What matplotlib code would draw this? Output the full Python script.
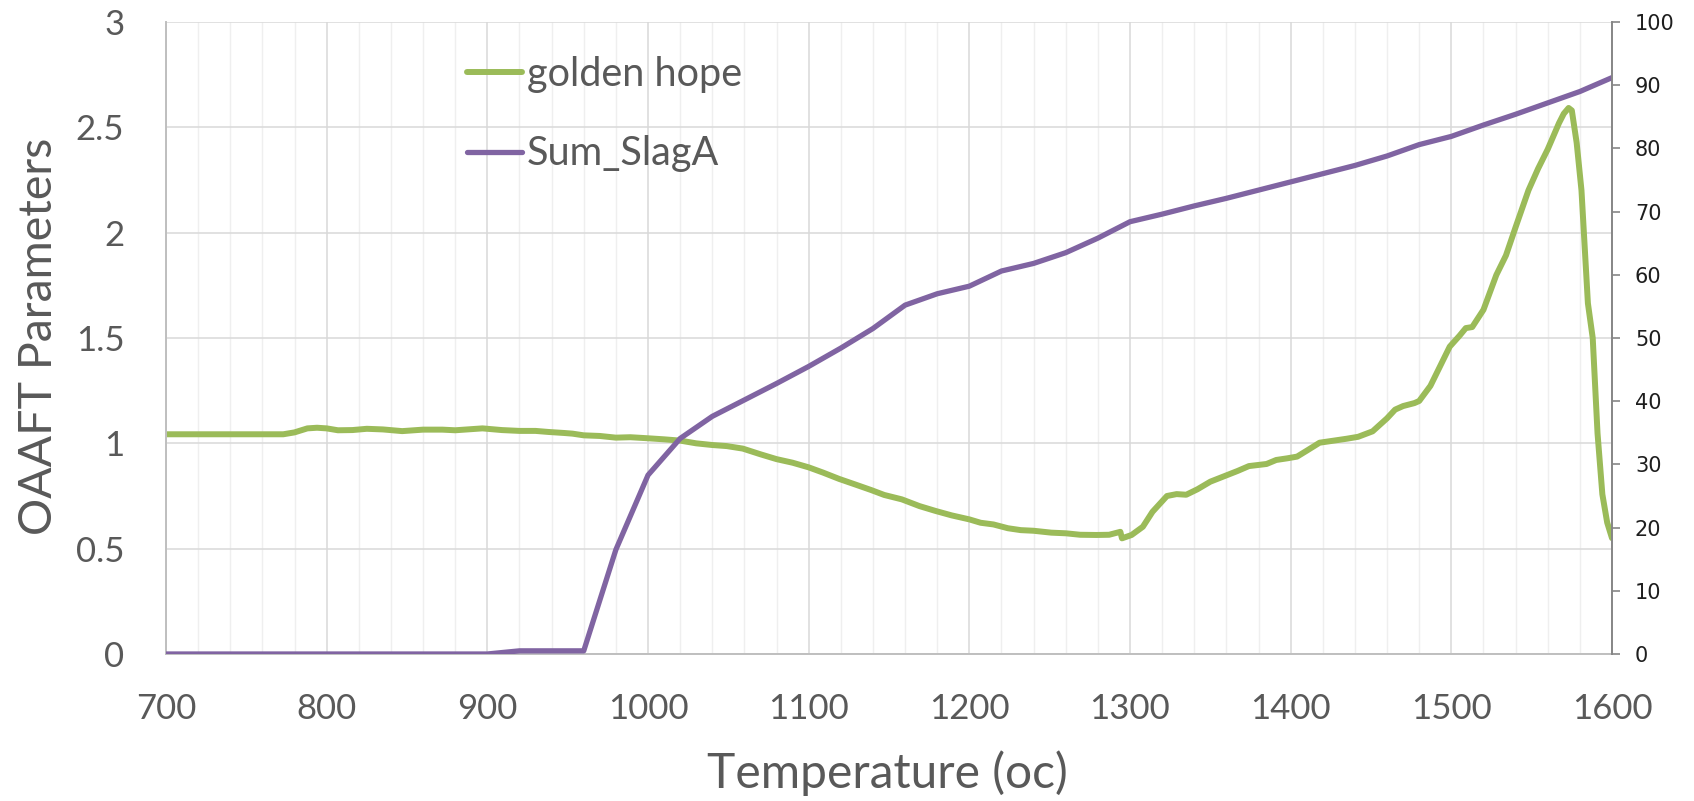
import matplotlib
matplotlib.use("Agg")
import matplotlib.pyplot as plt
from matplotlib.ticker import MultipleLocator


OUTPUT_PNG = "out.png"

GREEN = "#9bbb59"
PURPLE = "#8064a2"
TEXT_GREY = "#595959"

# golden hope (left axis)
GOLDEN_T = [
    700, 720, 740, 760, 773, 780, 788, 794, 800, 807, 816, 825, 835, 847,
    860, 872, 880, 897, 909, 920, 930, 938, 948, 953, 960, 970, 980, 989,
    1000, 1010, 1020, 1030, 1040, 1049, 1059, 1070, 1080, 1090, 1100, 1109,
    1119, 1130, 1139, 1147, 1158, 1169, 1179, 1189, 1200, 1207, 1215, 1224,
    1232, 1240, 1251, 1260, 1269, 1279, 1287, 1294, 1295, 1301, 1308, 1314,
    1323, 1329, 1335, 1342, 1350, 1359, 1367, 1374, 1385, 1391, 1398, 1404,
    1410, 1418, 1427, 1435, 1442, 1451, 1460, 1465, 1470, 1477, 1480, 1487,
    1493, 1499, 1505, 1509, 1513, 1520, 1528, 1534, 1540, 1548, 1554, 1560,
    1567, 1570, 1573, 1575, 1578, 1581, 1585, 1588, 1591, 1594, 1597, 1600,
]
GOLDEN_VAL = [
    1.043, 1.043, 1.043, 1.043, 1.043, 1.052, 1.071, 1.074, 1.071, 1.062,
    1.063, 1.069, 1.066, 1.058, 1.065, 1.065, 1.062, 1.071, 1.063, 1.059,
    1.059, 1.054, 1.049, 1.046, 1.038, 1.035, 1.027, 1.029, 1.024, 1.019,
    1.013, 1.000, 0.992, 0.987, 0.975, 0.948, 0.925, 0.908, 0.886, 0.861,
    0.831, 0.802, 0.778, 0.755, 0.734, 0.702, 0.679, 0.658, 0.639, 0.623,
    0.615, 0.597, 0.588, 0.585, 0.576, 0.573, 0.566, 0.565, 0.566, 0.580,
    0.549, 0.565, 0.604, 0.675, 0.750, 0.759, 0.756, 0.782, 0.818, 0.845,
    0.869, 0.892, 0.902, 0.921, 0.929, 0.937, 0.965, 1.003, 1.013, 1.022,
    1.031, 1.057, 1.119, 1.160, 1.177, 1.191, 1.201, 1.273, 1.366, 1.459,
    1.510, 1.547, 1.552, 1.634, 1.799, 1.892, 2.026, 2.201, 2.304, 2.396,
    2.520, 2.565, 2.592, 2.580, 2.427, 2.201, 1.665, 1.500, 1.047, 0.758,
    0.624, 0.550,
]

# Sum_SlagA (right axis)
SLAG_T = [
    700, 900, 920, 940, 960, 980, 1000, 1020, 1040, 1060, 1080, 1100, 1120,
    1140, 1160, 1180, 1200, 1220, 1240, 1260, 1280, 1300, 1320, 1340, 1360,
    1380, 1400, 1420, 1440, 1460, 1480, 1500, 1520, 1540, 1560, 1580, 1600,
]
SLAG_VAL = [
    0.0, 0.0, 0.5, 0.5, 0.5, 16.5, 28.3, 34.1, 37.6, 40.2, 42.8, 45.5, 48.4,
    51.5, 55.2, 57.0, 58.2, 60.6, 61.8, 63.5, 65.8, 68.4, 69.6, 70.9, 72.1,
    73.4, 74.7, 76.0, 77.3, 78.8, 80.6, 81.9, 83.7, 85.4, 87.2, 89.0, 91.2,
]


def main():
    plt.rcParams["font.family"] = ["Lato", "DejaVu Sans"]

    fig = plt.figure(figsize=(16.94, 8.01), dpi=100)
    ax = fig.add_axes([166 / 1694, 147 / 801, 1446 / 1694, 632 / 801])
    ax2 = ax.twinx()

    # grid
    ax.set_xlim(700, 1600)
    ax.set_ylim(0, 3)
    ax.xaxis.set_major_locator(MultipleLocator(100))
    ax.xaxis.set_minor_locator(MultipleLocator(20))
    ax.yaxis.set_major_locator(MultipleLocator(0.5))
    ax.grid(which="minor", axis="x", color="#efefef", linewidth=1.0)
    ax.grid(which="major", axis="both", color="#d9d9d9", linewidth=1.1)
    ax.set_axisbelow(True)

    line_g, = ax.plot(GOLDEN_T, GOLDEN_VAL, color=GREEN, linewidth=4.3,
                      solid_capstyle="round", solid_joinstyle="round",
                      label="golden hope")
    line_p, = ax2.plot(SLAG_T, SLAG_VAL, color=PURPLE, linewidth=3.8,
                       solid_capstyle="round", label="Sum_SlagA")

    ax2.set_ylim(0, 100)
    ax2.yaxis.set_major_locator(MultipleLocator(10))

    ax.spines["top"].set_visible(False)
    ax2.spines["top"].set_visible(False)
    ax.spines["right"].set_visible(False)
    ax2.spines["left"].set_visible(False)
    ax2.spines["bottom"].set_visible(False)
    ax.spines["left"].set_color("#bfbfbf")
    ax.spines["bottom"].set_color("#bfbfbf")
    ax.spines["left"].set_linewidth(1.4)
    ax.spines["bottom"].set_linewidth(1.4)
    ax2.spines["right"].set_color("#868686")
    ax2.spines["right"].set_linewidth(1.4)

    ax.tick_params(axis="both", which="both", length=0)
    ax.tick_params(axis="y", labelsize=25, labelcolor=TEXT_GREY, pad=30)
    ax.tick_params(axis="x", labelsize=25, labelcolor=TEXT_GREY, pad=28)
    ax.set_yticks([0, 0.5, 1, 1.5, 2, 2.5, 3])
    ax.set_yticklabels(["0", "0.5", "1", "1.5", "2", "2.5", "3"])

    ax2.tick_params(axis="y", length=5.5, width=1.2, color="#868686",
                    direction="out", labelsize=15, labelcolor="#1e1e1e", pad=11)
    for lab in ax2.get_yticklabels():
        lab.set_family("DejaVu Sans")

    ax.set_xlabel("Temperature (oc)", fontsize=34.5, color=TEXT_GREY)
    ax.xaxis.set_label_coords(0.499, -0.152)
    ax.set_ylabel("OAAFT Parameters", fontsize=33.5, color=TEXT_GREY)
    ax.yaxis.set_label_coords(-0.073, 0.503)

    ax2.legend(
        [line_g, line_p],
        ["golden hope", "Sum_SlagA"],
        loc="upper left",
        bbox_to_anchor=(431 / 1694, 1 - 20 / 801),
        bbox_transform=fig.transFigure,
        frameon=False,
        fontsize=28.5,
        handlelength=1.41,
        handletextpad=0.12,
        labelspacing=1.08,
        labelcolor=TEXT_GREY,
    )

    fig.savefig(OUTPUT_PNG, dpi=100)
    plt.close(fig)


if __name__ == "__main__":
    main()
